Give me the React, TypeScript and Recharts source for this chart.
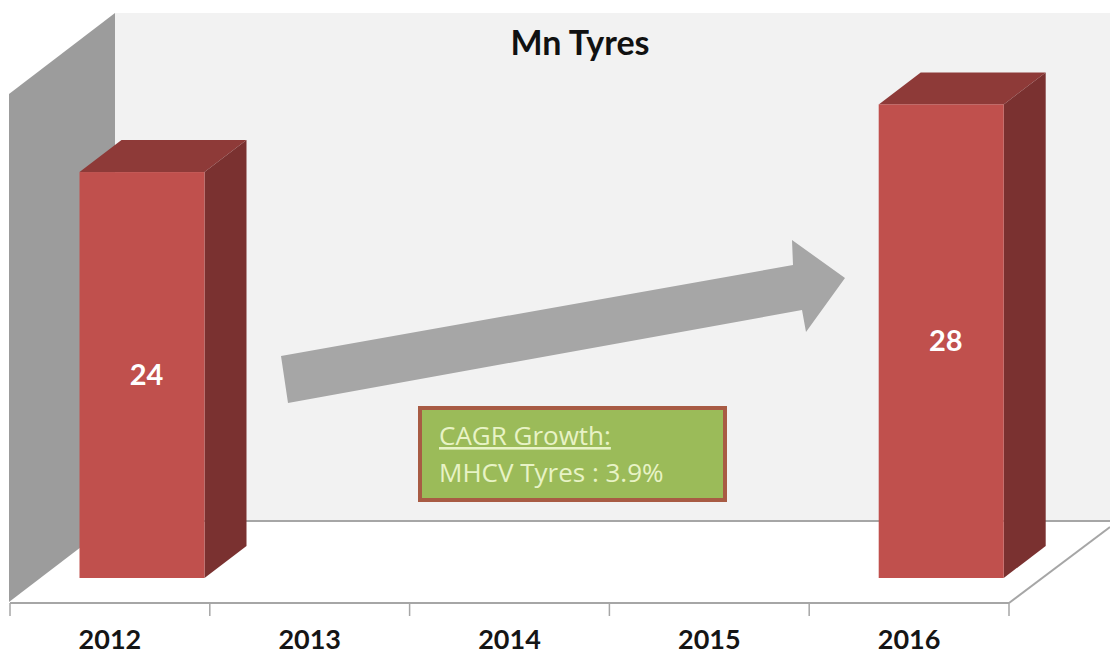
import React from 'react';
import { BarChart, Bar, XAxis, YAxis, LabelList } from 'recharts';

const years = ['2012', '2013', '2014', '2015', '2016'];
const tyres = [24, null, null, null, 28];

const chartData = years.map((year, i) => ({ year, tyres: tyres[i] }));

const BAND = 199.8;
// the 3D look: front face sits back from the axis, and has a depth going up-right
const SHIFT_X = 32.5;
const SHIFT_Y = 25;
const DEPTH_X = 42;
const DEPTH_Y = 32;

const GRID_GRAY = '#a6a6a6';
const LABEL_FONT = 'Lato, "Open Sans", sans-serif';

const Bar3D = (props: any) => {
  const { x, y, width, height } = props;
  if (!height) return null;
  const l = x + SHIFT_X;
  const r = l + width;
  const t = y - SHIFT_Y;
  const b = t + height;
  return (
    <g>
      <polygon points={`${l},${t} ${l + DEPTH_X},${t - DEPTH_Y} ${r + DEPTH_X},${t - DEPTH_Y} ${r},${t}`} fill="#8e3a38" />
      <polygon points={`${r},${t} ${r + DEPTH_X},${t - DEPTH_Y} ${r + DEPTH_X},${b - DEPTH_Y} ${r},${b}`} fill="#7a3130" />
      <rect x={l} y={t} width={width} height={height} fill="#c0504d" />
    </g>
  );
};

const BarValue = (props: any) => {
  const { x, y, width, height, value } = props;
  if (value == null) return null;
  return (
    <text
      x={x + width / 2 + SHIFT_X + 4.5}
      y={y - SHIFT_Y + height / 2 + 10}
      textAnchor="middle"
      fontFamily={LABEL_FONT}
      fontWeight={700}
      fontSize={29}
      fill="#ffffff"
    >
      {value}
    </text>
  );
};

const YearTick = (props: any) => {
  const { x, payload, index } = props;
  const left = x - BAND / 2;
  return (
    <g>
      <line x1={left} x2={left} y1={603} y2={616} stroke={GRID_GRAY} strokeWidth={1.5} />
      {index === years.length - 1 && (
        <line x1={left + BAND} x2={left + BAND} y1={603} y2={616} stroke={GRID_GRAY} strokeWidth={1.5} />
      )}
      <text x={x} y={648.5} textAnchor="middle" fontFamily={LABEL_FONT} fontWeight={700} fontSize={27} fill="#151515">
        {payload.value}
      </text>
    </g>
  );
};

export default function App() {
  return (
    <div style={{ position: 'absolute', left: 0, top: 0, width: 1110, height: 654, background: '#fff', overflow: 'hidden' }}>
      <BarChart
        width={1110}
        height={654}
        data={chartData}
        margin={{ top: 11, right: 101, bottom: 0, left: 10 }}
        barSize={125}
      >
        {/* back wall, side wall and floor edges */}
        <rect x={115} y={13} width={995} height={508} fill="#f2f2f2" />
        <polygon points="9,94 115,13 115,521 9,602" fill="#9c9c9c" />
        <line x1={115} x2={1110} y1={521} y2={521} stroke={GRID_GRAY} strokeWidth={2} />
        <line x1={1009} x2={1110} y1={603} y2={527} stroke={GRID_GRAY} strokeWidth={2} />

        <text x={580} y={55} textAnchor="middle" fontFamily={LABEL_FONT} fontWeight={700} fontSize={34} fill="#111">
          Mn Tyres
        </text>

        <polygon points="281,356 288,403 802,310 806,332 845,278 792,240 793,265" fill="#a6a6a6" />

        <rect x={420} y={408} width={305} height={92} fill="#9bbb59" stroke="#a85b44" strokeWidth={4} />
        <text x={439} y={445} fontFamily="'Open Sans', sans-serif" fontSize={26} fill="#e8f3c6" textDecoration="underline">
          CAGR Growth:
        </text>
        <text x={439} y={482} fontFamily="'Open Sans', sans-serif" fontSize={26} fill="#e8f3c6">
          MHCV Tyres : 3.9%
        </text>

        <XAxis
          dataKey="year"
          height={51}
          axisLine={{ stroke: GRID_GRAY, strokeWidth: 2 }}
          tickLine={false}
          tick={<YearTick />}
          interval={0}
        />
        <YAxis hide domain={[0, 35]} />
        <Bar dataKey="tyres" shape={<Bar3D />} isAnimationActive={false}>
          <LabelList dataKey="tyres" content={<BarValue />} />
        </Bar>
      </BarChart>
    </div>
  );
}
